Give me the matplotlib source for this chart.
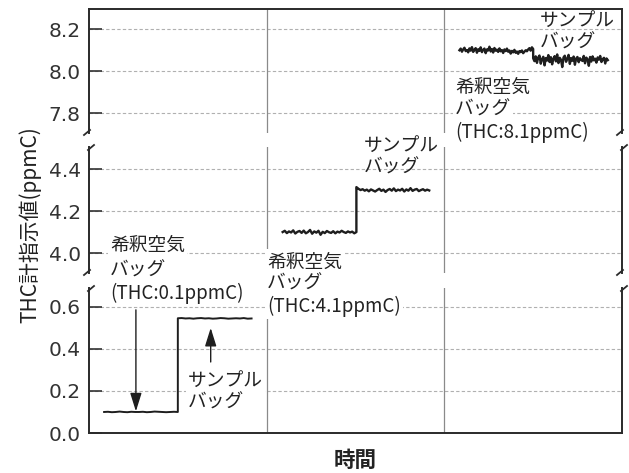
import numpy as np
import matplotlib
matplotlib.use("Agg")
import matplotlib.pyplot as plt
from matplotlib.lines import Line2D

plt.rcParams['font.family'] = ['Noto Sans CJK JP', 'DejaVu Sans']

# ---------------- data ----------------
# panel 1 : dilution air bag THC 0.1 ppmC
p1_dilution = [0.100, 0.101, 0.099, 0.100, 0.102, 0.100, 0.099, 0.101, 0.100, 0.100,
               0.101, 0.099, 0.100, 0.102, 0.101, 0.100, 0.099, 0.100, 0.101, 0.100]
p1_sample = [0.546, 0.547, 0.545, 0.546, 0.544, 0.546, 0.547, 0.545, 0.546, 0.544,
             0.545, 0.547, 0.546, 0.544, 0.545, 0.546, 0.545, 0.547, 0.544, 0.545]
# panel 2 : dilution air bag THC 4.1 ppmC
p2_dilution = [4.100, 4.106, 4.095, 4.103, 4.098, 4.108, 4.093, 4.101, 4.105, 4.096,
               4.107, 4.094, 4.100, 4.110, 4.092, 4.103, 4.097, 4.106, 4.087, 4.101,
               4.095, 4.105, 4.099, 4.096, 4.104, 4.094, 4.102, 4.098, 4.106, 4.100,
               4.096, 4.103, 4.098, 4.102, 4.094, 4.100]
p2_sample = [4.314, 4.306, 4.300, 4.304, 4.297, 4.302, 4.294, 4.303, 4.298, 4.293,
             4.300, 4.306, 4.296, 4.302, 4.291, 4.300, 4.305, 4.297, 4.308, 4.295,
             4.302, 4.298, 4.306, 4.293, 4.303, 4.297, 4.309, 4.296, 4.302, 4.305,
             4.295, 4.300, 4.304, 4.297, 4.302, 4.298]
# panel 3 : dilution air bag THC 8.1 ppmC
p3_dilution = [8.100, 8.108, 8.093, 8.104, 8.112, 8.096, 8.101, 8.090, 8.109, 8.098,
               8.115, 8.092, 8.103, 8.110, 8.088, 8.105, 8.097, 8.114, 8.091, 8.102,
               8.108, 8.086, 8.104, 8.099, 8.117, 8.094, 8.106, 8.089, 8.111, 8.098,
               8.103, 8.092, 8.109, 8.095, 8.101, 8.087, 8.104, 8.096, 8.108, 8.093,
               8.099, 8.084, 8.097, 8.090, 8.102, 8.088, 8.094, 8.083, 8.096, 8.091,
               8.099, 8.086, 8.093, 8.100, 8.095, 8.104, 8.110, 8.098, 8.114, 8.106]
p3_sample = [8.062, 8.048, 8.071, 8.040, 8.066, 8.075, 8.036, 8.058, 8.069, 8.028,
             8.063, 8.051, 8.077, 8.044, 8.067, 8.033, 8.060, 8.072, 8.047, 8.080,
             8.039, 8.064, 8.055, 8.020, 8.066, 8.074, 8.045, 8.059, 8.078, 8.035,
             8.063, 8.050, 8.070, 8.031, 8.061, 8.068, 8.043, 8.062, 8.054, 8.049,
             8.073, 8.038, 8.065, 8.057, 8.026, 8.068, 8.046, 8.071, 8.052, 8.060,
             8.041, 8.066, 8.055, 8.073, 8.044, 8.058, 8.064, 8.037, 8.061, 8.053]

# time windows (panel units) for each trace: (start, switch, end)
p1_time = (0.085, 0.50, 0.915)
p2_time = (1.09, 1.505, 1.915)
p3_time = (2.085, 2.50, 2.92)

ticks_top = [7.8, 8.0, 8.2]
ticks_mid = [4.0, 4.2, 4.4]
ticks_bot = [0.0, 0.2, 0.4, 0.6]
lim_top = (7.706, 8.295)
lim_mid = (3.905, 4.505)
lim_bot = (0.0, 0.69)

W, H = 629, 473
fig = plt.figure(figsize=(W / 100, H / 100), dpi=100)


def fx(x):
    return x / W


def fy(y):
    return 1 - y / H


left_px, right_px = 89, 622
axes_px = [(9.3, 133), (147, 273), (288, 433)]  # (top, bottom) pixel rows
lims = [lim_top, lim_mid, lim_bot]
ticks = [ticks_top, ticks_mid, ticks_bot]
axs = []
spine_c = '#2a2a2a'
for i, ((t, b), lim, tk) in enumerate(zip(axes_px, lims, ticks)):
    ax = fig.add_axes([fx(left_px), fy(b), fx(right_px - left_px), (b - t) / H])
    ax.set_xlim(0, 3)
    ax.set_ylim(*lim)
    ax.set_yticks(tk)
    ax.set_yticklabels([f"{v:.1f}" for v in tk], family='DejaVu Sans')
    ax.set_xticks([])
    ax.tick_params(axis='y', direction='in', length=9, width=1.2, labelsize=14.5,
                   colors='#333333', pad=6)
    ax.yaxis.grid(True, linestyle=(0, (3, 2)), color='#b0b0b0', linewidth=0.8)
    ax.set_axisbelow(True)
    for s in ax.spines.values():
        s.set_color(spine_c)
        s.set_linewidth(1.4)
    if i > 0:
        ax.spines['top'].set_visible(False)
    if i < 2:
        ax.spines['bottom'].set_visible(False)
    for xv in (1, 2):
        ax.axvline(xv, color='#8a8a8a', linewidth=0.9, zorder=1)
    ax.patch.set_alpha(0)
    axs.append(ax)

ax_top, ax_mid, ax_bot = axs
trace_c = '#1e1e1e'


def draw_trace(ax, times, low, high, lw):
    x1 = np.linspace(times[0], times[1], len(low))
    x2 = np.linspace(times[1], times[2], len(high))
    ax.plot(np.concatenate([x1, x2]), np.concatenate([low, high]),
            color=trace_c, linewidth=lw, zorder=3)


draw_trace(ax_bot, p1_time, p1_dilution, p1_sample, 1.4)
draw_trace(ax_mid, p2_time, p2_dilution, p2_sample, 1.7)
draw_trace(ax_top, p3_time, p3_dilution, p3_sample, 1.7)

# arrows in panel 1
ax_bot.annotate('', xy=(0.264, 0.103), xytext=(0.264, 0.586),
                arrowprops=dict(arrowstyle='-|>,head_length=0.8,head_width=0.25',
                                color=trace_c, lw=1.0,
                                mutation_scale=14, shrinkA=0, shrinkB=0))
ax_bot.annotate('', xy=(0.685, 0.50), xytext=(0.685, 0.338),
                arrowprops=dict(arrowstyle='-|>,head_length=0.8,head_width=0.25',
                                color=trace_c, lw=1.0,
                                mutation_scale=14, shrinkA=0, shrinkB=0))

# break marks on spines
for (t0, b0), (t1, b1) in zip(axes_px[:-1], axes_px[1:]):
    for sx in (left_px, right_px):
        fig.add_artist(Line2D([fx(sx - 5), fx(sx + 1)], [fy(b0 + 2), fy(b0 - 3)],
                              transform=fig.transFigure, color=spine_c, lw=1.3))
        fig.add_artist(Line2D([fx(sx - 1), fx(sx + 5)], [fy(t1 + 3), fy(t1 - 2)],
                              transform=fig.transFigure, color=spine_c, lw=1.3))

# annotations
fs = 13.5
tc = '#222222'
box = dict(facecolor='white', edgecolor='none', pad=1.5)


def label(x, y, s, bbox=None):
    fig.text(fx(x), fy(y), s, fontsize=fs, color=tc, ha='left', va='center',
             bbox=bbox, zorder=5)


for (x, ys, val) in [(110, (245, 270, 293), '0.1'),
                     (267, (262, 283, 306), '4.1'),
                     (455, (87, 109, 132), '8.1')]:
    label(x, ys[0], '希釈空気', box)
    label(x, ys[1], 'バッグ', box)
    label(x, ys[2], f'(THC:{val}ppmC)', box)

for (x, ys, b) in [(188, (380, 402), box), (364, (145, 167), None), (540, (20, 42), None)]:
    label(x, ys[0], 'サンプル', b)
    label(x, ys[1], 'バッグ', b)

fig.text(fx(30), fy(225), 'THC計指示値(ppmC)', rotation=90, fontsize=15,
         color=tc, ha='center', va='center')
fig.text(fx(355), fy(460), '時間', fontsize=15.5, fontweight='bold', color=tc,
         ha='center', va='center')

fig.savefig('out.png', dpi=100)
